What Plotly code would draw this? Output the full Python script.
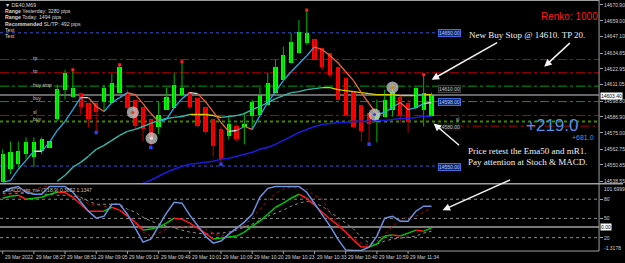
import plotly.graph_objects as go

W, H = 625, 263

# ---------------- data ----------------
open_ = [14537.9, 14547.6, 14551.3, 14558.8, 14556.6, 14561.1, 14563.3, 14585.0, 14607.4, 14602.1,
         14605.1, 14597.7, 14597.7, 14598.4, 14597.7, 14605.1, 14605.1, 14599.9, 14594.7, 14585.0,
         14579.0, 14592.4, 14593.9, 14603.6, 14605.9, 14601.4, 14594.7, 14585.0, 14577.5, 14572.3,
         14579.7, 14579.0, 14587.2, 14588.7, 14596.2, 14605.1, 14614.8, 14627.5, 14635.0, 14642.5,
         14645.5, 14638.7, 14635.0, 14624.5, 14616.3, 14605.9, 14596.2, 14590.2, 14582.7, 14586.5,
         14592.4, 14602.1, 14597.7, 14593.9, 14592.4, 14587.2]
high = [14562.6, 14568.5, 14568.5, 14571.5, 14571.5, 14571.5, 14568.5, 14611.1, 14622.3, 14622.3,
        14605.1, 14597.7, 14597.7, 14611.1, 14619.3, 14626.0, 14607.4, 14599.9, 14594.7, 14585.0,
        14598.4, 14608.9, 14620.1, 14628.3, 14605.9, 14601.4, 14594.7, 14585.0, 14579.7, 14587.2,
        14581.2, 14590.2, 14599.9, 14608.9, 14620.1, 14629.8, 14639.5, 14649.9, 14659.7, 14667.1,
        14645.5, 14638.7, 14635.0, 14624.5, 14616.3, 14605.9, 14596.2, 14590.2, 14599.9, 14607.4,
        14611.1, 14603.6, 14599.9, 14608.9, 14618.6, 14605.1]
low = [14537.9, 14543.9, 14549.1, 14555.1, 14549.1, 14558.8, 14563.3, 14583.5, 14599.9, 14601.4,
       14588.7, 14579.0, 14575.2, 14590.9, 14597.7, 14605.1, 14590.9, 14577.5, 14568.5, 14564.0,
       14573.8, 14592.4, 14593.9, 14603.6, 14592.4, 14579.0, 14573.8, 14557.3, 14551.3, 14570.0,
       14568.5, 14566.3, 14577.5, 14588.7, 14596.2, 14605.1, 14614.8, 14627.5, 14635.0, 14641.0,
       14629.8, 14622.3, 14616.3, 14599.9, 14588.7, 14579.0, 14568.5, 14566.3, 14567.8, 14586.5,
       14587.2, 14582.7, 14575.2, 14592.4, 14579.7, 14587.2]
close = [14558.8, 14560.3, 14561.1, 14567.8, 14567.8, 14570.0, 14568.5, 14608.1, 14620.1, 14608.9,
         14594.7, 14585.0, 14590.9, 14608.9, 14612.6, 14624.5, 14593.9, 14579.7, 14577.5, 14570.0,
         14588.7, 14602.1, 14611.1, 14608.9, 14594.7, 14579.7, 14575.2, 14564.8, 14555.1, 14581.2,
         14570.0, 14581.2, 14598.4, 14603.6, 14612.6, 14624.5, 14633.5, 14643.2, 14650.7, 14649.9,
         14629.8, 14624.5, 14618.6, 14599.9, 14588.7, 14579.0, 14576.0, 14581.2, 14590.2, 14599.9,
         14605.9, 14588.7, 14582.7, 14608.9, 14605.1, 14603.4]

fast_ma = [14537.8, 14539.3, 14547.6, 14554.3, 14561.1, 14561.1, 14567.8, 14576.7, 14583.5, 14592.4,
           14601.4, 14601.4, 14594.7, 14590.9, 14597.7, 14601.4, 14605.1, 14603.6, 14596.9, 14589.4,
           14583.5, 14585.0, 14593.9, 14600.6, 14605.1, 14604.4, 14598.4, 14590.9, 14582.7, 14576.0,
           14576.7, 14579.7, 14577.5, 14587.9, 14597.7, 14605.9, 14614.1, 14620.8, 14626.8, 14632.8,
           14639.5, 14637.3, 14632.8, 14627.5, 14620.8, 14614.1, 14605.1, 14596.9, 14588.7, 14590.2,
           14593.9, 14597.7, 14592.4, 14593.9, 14596.9, 14597.7]
ema50 = [None] * 7 + [14538.6, 14543.1, 14549.1, 14552.8, 14557.3, 14562.6, 14565.5, 14569.3, 14573.0,
                      14576.0, 14577.5, 14579.7, 14582.0, 14584.2, 14585.7, 14586.5, 14587.2, 14588.7,
                      14588.7, 14588.7, 14587.9, 14586.5, 14587.2, 14587.9, 14589.4, 14592.4, 14594.7,
                      14597.7, 14600.6, 14602.9, 14605.1, 14605.9, 14607.4, 14608.1, 14608.9, 14608.9,
                      14607.4, 14606.6, 14605.9, 14605.1, 14604.4, 14603.6, 14603.6, 14603.6, 14602.9,
                      14602.9, 14602.9, 14603.6, 14603.6]
ema200 = [None] * 17 + [14534.0, 14537.2, 14539.3, 14542.4, 14545.4, 14547.6, 14549.8, 14551.3, 14552.1,
                        14552.8, 14553.6, 14555.1, 14555.8, 14557.3, 14558.8, 14560.3, 14562.6, 14564.0,
                        14566.3, 14569.3, 14572.3, 14575.2, 14577.5, 14579.7, 14581.2, 14582.0, 14582.7,
                        14582.7, 14583.5, 14583.5, 14583.5, 14584.2, 14584.2, 14585.0, 14585.7, 14585.7,
                        14586.5, 14587.2, 14587.2]

stoch_main = [90.9, 97.1, 100, 90.9, 87.8, 87.8, 100, 100, 100, 90.9,
              76.9, 61.3, 50.4, 53.5, 72.2, 72.2, 56.6, 34.8, 13.0, 17.7,
              37.9, 58.2, 75.3, 73.8, 55.1, 37.9, 22.4, 11.4, 14.6, 25.5,
              34.8, 44.2, 56.6, 83.1, 97.1, 100, 100, 100, 100, 90.9,
              73.8, 56.6, 37.9, 17.7, 0.5, 0, 0, 5.2, 22.4, 50.4,
              53.5, 45.7, 45.7, 61.3, 69.1, 69.1]
stoch_signal = [81.6, 84.7, 86.2, 80, 81.6, 83.1, 87.8, 90.9, 90.9, 83.1,
                72.2, 61.3, 61.3, 61.3, 67.5, 62.9, 53.5, 44.2, 31.7, 33.3,
                36.4, 42.6, 50.4, 48.8, 42.6, 34.8, 27.0, 17.7, 19.2, 20.8,
                22.4, 28.6, 37.9, 45.7, 56.6, 67.5, 73.8, 81.6, 87.8, 81.6,
                70.7, 59.7, 48.8, 39.5, 28.6, 16.1, 5.2, 5.2, 9.9, 22.4,
                23.9, 22.4, 27.0, 31.7, 30.1, 34.8]
signal_dotted = [86.2, 87.8, 90.9, 94.0, 95.6, 98.7, 100, 100, 100, 90.9,
                 81.6, 72.2, 70.7, 69.1, 67.5, 62.9, 55.1, 41.1, 28.6, 22.4,
                 27.0, 33.3, 37.9, 37.9, 36.4, 36.4, 33.3, 27.0, 22.4, 23.9,
                 33.3, 39.5, 50.4, 64.4, 78.4, 89.3, 95.6, 98.7, 97.1, 95.6,
                 86.2, 80, 58.2, 44.2, 27.0, 19.2, 11.4, 8.3, 14.6, 25.5,
                 37.9, 48.8, 52.0, 53.5, 59.7, 67.5]
slow_dotted = [89.3, 89.3, 89.3, 89.3, 87.8, 87.8, 87.8, 86.2, 86.2, 84.7,
               83.1, 76.9, 72.2, 72.2, 72.2, 72.2, 64.4, 59.7, 52.0, 45.7,
               41.1, 37.9, 34.8, 31.7, 28.6, 27.0, 25.5, 27.0, 27.0, 28.6,
               31.7, 36.4, 41.1, 47.3, 53.5, 58.2, 62.9, 69.1, 73.8, 76.9,
               73.8, 69.1, 59.7, 52.0, 42.6, 33.3, 20.8, 11.4, 9.9, 14.6,
               17.7, 19.2, 20.8, 22.4, 27.0, 30.1]

time_labels = ["29 Mar 2022", "29 Mar 08:27", "29 Mar 08:51", "29 Mar 09:05", "29 Mar 09:19",
               "29 Mar 09:49", "29 Mar 10:01", "29 Mar 10:09", "29 Mar 10:20", "29 Mar 10:23",
               "29 Mar 10:33", "29 Mar 10:40", "29 Mar 10:59", "29 Mar 11:34"]
time_label_bars = [0, 4, 8, 12, 16, 20, 24, 28, 32, 36, 40, 44, 48, 52]
price_ticks = [14670.90, 14659.00, 14647.10, 14634.85, 14622.95, 14611.05,
               14598.80, 14586.90, 14575.00, 14562.75, 14550.85, 14538.55]
current_price = 14603.40
tip_bars = [9, 15, 23, 39, 54]
low_dot_bars = [12, 19, 28, 47]
circle_x = [16.7, 19.1, 47.7, 50.0]
circle_y = [14590.2, 14570.8, 14588.7, 14608.9]
osc_levels = [80, 50, 20]
osc_line = 36.4
osc_max_label, osc_min_label = "101.6999", "-1.3178"

# ---------------- helpers ----------------
def pyy(p):
    return 1 - p / H

def pxx(p):
    return p / W

x = list(range(len(open_)))
X_DOM = 601 / W
fig = go.Figure()

# candle wicks
for up, col in [(True, "#00b400"), (False, "#b80000")]:
    wx, wy = [], []
    for i in x:
        if (close[i] >= open_[i]) == up:
            wx += [i, i, None]
            wy += [low[i], high[i], None]
    fig.add_trace(go.Scatter(x=wx, y=wy, mode="lines", line=dict(color=col, width=1),
                             hoverinfo="skip", showlegend=False))

# candle bodies
bases = [min(o, c) for o, c in zip(open_, close)]
hts = [max(abs(c - o), 0.6) for o, c in zip(open_, close)]
cols = ["#00ff00" if c >= o else "#ff0000" for o, c in zip(open_, close)]
fig.add_trace(go.Bar(x=x, y=hts, base=bases, width=0.55, marker=dict(color=cols, line=dict(width=0)),
                     showlegend=False, hoverinfo="skip"))

# red tips and blue low dots
fig.add_trace(go.Scatter(x=tip_bars, y=[high[i] for i in tip_bars], mode="markers",
                         marker=dict(symbol="square", size=3, color="#ff2020"), showlegend=False))
fig.add_trace(go.Scatter(x=low_dot_bars, y=[low[i] for i in low_dot_bars], mode="markers",
                         marker=dict(symbol="square", size=3.5, color="#2040ff"), showlegend=False))


def colored_line(vals, yaxis, color_fn, width):
    groups = {}
    prev_dir = 0
    for i in range(len(vals) - 1):
        a, b = vals[i], vals[i + 1]
        if a is None or b is None:
            continue
        c = color_fn(b - a)
        g = groups.setdefault(c, ([], []))
        g[0].extend([i, i + 1, None])
        g[1].extend([a, b, None])
    for c, (gx, gy) in groups.items():
        fig.add_trace(go.Scatter(x=gx, y=gy, mode="lines", yaxis=yaxis,
                                 line=dict(color=c, width=width), showlegend=False, hoverinfo="skip"))


# moving averages
fig.add_trace(go.Scatter(x=x, y=ema200, mode="lines", line=dict(color="#1a1ad8", width=1.6),
                         showlegend=False, hoverinfo="skip"))
colored_line(ema50, "y", lambda d: "#36b8ad" if d > 0.2 else "#d8d000", 1.4)
colored_line(fast_ma, "y", lambda d: "#d8d8d8" if abs(d) < 1.0 else ("#2ba8e0" if d > 0 else "#f0643c"), 1.3)

# circles
fig.add_trace(go.Scatter(x=circle_x, y=circle_y, mode="markers",
                         marker=dict(size=12, color="rgba(205,205,205,0.75)"), showlegend=False))
fig.add_trace(go.Scatter(x=circle_x, y=circle_y, mode="markers",
                         marker=dict(size=3, color=["#d04020", "#e0e0e0", "#2040ff", "#e08000"]),
                         showlegend=False))

# oscillator pane
fig.add_trace(go.Scatter(x=x, y=slow_dotted, yaxis="y2", mode="lines",
                         line=dict(color="#8a8a8a", width=1, dash="dot"), showlegend=False))
fig.add_trace(go.Scatter(x=x, y=signal_dotted, yaxis="y2", mode="lines",
                         line=dict(color="#a01010", width=1, dash="dot"), showlegend=False))
colored_line(stoch_signal, "y2", lambda d: "#00c800" if d > 0 else "#ff1a1a", 1.5)
fig.add_trace(go.Scatter(x=x, y=stoch_main, yaxis="y2", mode="lines",
                         line=dict(color="#6a90e0", width=1.5), showlegend=False))

# ---------------- shapes ----------------
shapes = []
def hline(yv, color, dash, width=1, x0=0, x1=X_DOM, yref="y"):
    shapes.append(dict(type="line", xref="paper", yref=yref, x0=x0, x1=x1, y0=yv, y1=yv,
                       line=dict(color=color, width=width, dash=dash), layer="below"))

hline(14650.0, "#3355dd", "dot", 1, 0, 438 / W)
hline(14630.0, "#c00000", "dashdot")
hline(14620.0, "#c00000", "dashdot")
hline(14610.0, "#00a000", "dashdot")
hline(current_price, "#8a8a8a", "solid", 1.5)
hline(14598.4, "#00a000", "dashdot")
hline(14588.0, "#c00000", "dashdot")
hline(14583.5, "#3a8a00", "dot", 2)
hline(14580.0, "#c00000", "dashdot", 1, 438 / W, X_DOM)
hline(14550.0, "#3355dd", "dot", 1, 0, 438 / W)
for lv in osc_levels:
    hline(lv, "#8a8a8a", "dot", 1, 0, X_DOM, "y2")
hline(osc_line, "#a0a0a0", "solid", 1.5, 0, X_DOM, "y2")

# frame lines
for yy in [0.5, 184.5, 252]:
    shapes.append(dict(type="line", xref="paper", yref="paper", x0=0, x1=1 if yy == 184.5 else X_DOM,
                       y0=pyy(yy), y1=pyy(yy), line=dict(color="#a0a0a0", width=1.5 if yy == 184.5 else 1)))
shapes.append(dict(type="line", xref="paper", yref="paper", x0=X_DOM, x1=X_DOM, y0=pyy(0), y1=pyy(252),
                   line=dict(color="#a0a0a0", width=1)))
for b in time_label_bars:
    shapes.append(dict(type="line", xref="x", yref="paper", x0=b, x1=b, y0=pyy(252), y1=pyy(255),
                       line=dict(color="#a0a0a0", width=1)))

# ---------------- annotations ----------------
ann = []
SANS = "Liberation Sans, Arial, sans-serif"
SERIF = "Liberation Serif, DejaVu Serif, serif"

def txt(t, xp, yp, size=5, color="#d8d8d8", anchor="left", family=SANS, **kw):
    d = dict(text=t, x=pxx(xp), y=pyy(yp), xref="paper", yref="paper", xanchor=anchor, yanchor="middle",
             showarrow=False, font=dict(size=size, color=color, family=family))
    d.update(kw)
    ann.append(d)

for lab, b in zip(time_labels, time_label_bars):
    ann.append(dict(text=lab, x=b, y=pyy(258), xref="x", yref="paper", xanchor="left", yanchor="middle",
                    showarrow=False, font=dict(size=5, color="#d0d0d0", family=SANS)))

# top-left info
for t, yy in [("▼ DE40,M69", 5), ("<b>Range</b> Yesterday: 3280 pips", 11), ("<b>Range</b> Today: 1494 pips", 17),
              ("<b>Recommended</b> SL/TP: 492 pips", 24), ("Text", 30), ("Text", 36)]:
    txt(t, 3, yy, 5.2)

for t, yy in [("tp", 58), ("tp", 71), ("buy stop", 85), ("buy", 98), ("sl", 112), ("buy", 119)]:
    txt(t, 31, yy, 5, "#c8c8c8")

# order boxes
def box(t, yp, bg, fg, bc):
    txt(t, 439, yp, 5, fg, bgcolor=bg, bordercolor=bc, borderwidth=1, borderpad=0)

box("14650.00", 33, "#14286a", "#a8c4ff", "#3d6be0")
box("14610.00", 89, "#101010", "#c0c0c0", "#404040")
box("14598.00", 102, "#14286a", "#a8c4ff", "#3d6be0")
box("14580.00", 127, "#101010", "#c0c0c0", "#101010")
box("14550.00", 168, "#14286a", "#a8c4ff", "#3d6be0")
txt("sl", 455, 120, 4.5, "#c0c0c0")

txt("Renko: 1000", 571, 17, 10, "#ff1a1a", "center")
txt("New Buy Stop @ 14610. TP 20.", 469, 35, 9, "#f0f0f0", family=SERIF)
txt("Price retest the Ema50 and mR1.", 467, 152, 9, "#f0f0f0", family=SERIF)
txt("Pay attention at Stoch &amp; MACD.", 467, 163, 9, "#f0f0f0", family=SERIF)
txt("+219.0", 554, 126, 17, "#4f8fe8", "center")
txt("+681.0", 585, 138, 7, "#4f8fe8", "center")

# current price box on axis
txt(f"{current_price:.2f}", 602, 96, 5, "#000000", bgcolor="#ffffff", borderpad=0)

# oscillator labels
txt("MACD_sto_me (7,18,9) 0.3852 1.1347", 4, 191, 5, "#c0c0c0")
txt(osc_max_label, 604, 190, 5, "#d0d0d0")
for lv in osc_levels:
    ann.append(dict(text=str(lv), x=pxx(604), y=lv, xref="paper", yref="y2", xanchor="left", yanchor="middle",
                    showarrow=False, font=dict(size=5, color="#d0d0d0", family=SANS)))
ann.append(dict(text="0.00", x=pxx(602), y=osc_line, xref="paper", yref="y2", xanchor="left", yanchor="middle",
                showarrow=False, bgcolor="#ffffff", borderpad=0, font=dict(size=5, color="#000000", family=SANS)))
txt(osc_min_label, 604, 249, 5, "#d0d0d0")

# arrows
for (hx, hy, tx, ty) in [(433, 80, 500, 42), (546, 67, 573, 42), (435, 124, 462, 147), (444, 211, 513, 180)]:
    ann.append(dict(text="", x=pxx(hx), y=pyy(hy), xref="paper", yref="paper", ax=tx - hx, ay=ty - hy,
                    axref="pixel", ayref="pixel", showarrow=True, arrowhead=2, arrowsize=1, arrowwidth=1.5,
                    arrowcolor="#f2f2f2", standoff=0))

fig.update_layout(
    width=W, height=H, margin=dict(l=0, r=0, t=0, b=0),
    paper_bgcolor="#000000", plot_bgcolor="#000000",
    barmode="overlay", showlegend=False, bargap=0,
    xaxis=dict(domain=[0, X_DOM], range=[-0.345, 76.5], visible=False, anchor="y2", fixedrange=True),
    yaxis=dict(domain=[pyy(183.5), 1], range=[14537.43, 14674.64], side="right", anchor="x",
               tickvals=price_ticks, ticktext=[f"{v:.2f}" for v in price_ticks],
               ticks="outside", ticklen=3, tickcolor="#a0a0a0",
               tickfont=dict(size=5, color="#d0d0d0", family=SANS),
               showgrid=False, zeroline=False, showline=False),
    yaxis2=dict(domain=[pyy(252), pyy(186)], range=[-1.0, 101.8], anchor="x", side="right",
                showticklabels=False, showgrid=False, zeroline=False, showline=False,
                tickvals=osc_levels, ticks="outside", ticklen=3, tickcolor="#a0a0a0"),
    shapes=shapes, annotations=ann,
)

fig.write_html("out.html")
